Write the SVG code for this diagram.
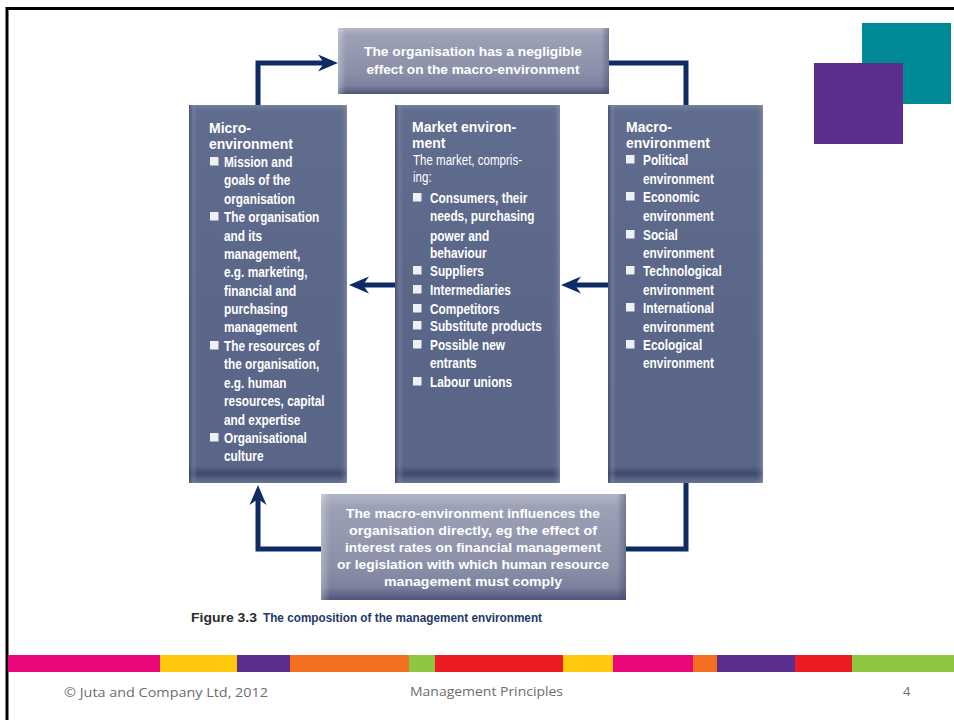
<svg xmlns="http://www.w3.org/2000/svg" width="954" height="720" viewBox="0 0 954 720">
  <style>
    .frame { fill: none; stroke: #000; stroke-width: 3; }
    .col { fill: url(#colV); }
    .colEdge { fill: url(#colH); }
    .note { fill: url(#noteV); }
    .noteEdge { fill: url(#noteH); }
    .head { font-family: "Liberation Sans", Arial, sans-serif; font-weight: bold; font-size: 14px; fill: #fff; }
    .item { font-family: "Liberation Sans", Arial, sans-serif; font-weight: bold; font-size: 15px; fill: #fff; }
    .plain { font-weight: normal; }
    .bul { fill: #eef0f4; }
    .ntext { font-family: "Liberation Sans", Arial, sans-serif; font-weight: bold; font-size: 13.5px; fill: #fff; text-anchor: middle; }
    .link { fill: none; stroke: #0f2b66; stroke-width: 5; }
    .cap1 { font-family: "Liberation Sans", Arial, sans-serif; font-weight: bold; font-size: 13px; fill: #2e2a26; }
    .cap2 { font-family: "Liberation Sans", Arial, sans-serif; font-weight: bold; font-size: 13px; fill: #24386a; }
    .foot { font-family: "Open Sans", "Liberation Sans", sans-serif; font-size: 13px; fill: #6d6d6d; }
  </style>
  <defs>
    <linearGradient id="colV" x1="0" y1="0" x2="0" y2="1">
      <stop offset="0" stop-color="#76819f"/>
      <stop offset="0.015" stop-color="#616d8e"/>
      <stop offset="0.5" stop-color="#5b6789"/>
      <stop offset="0.955" stop-color="#5a6688"/>
      <stop offset="0.975" stop-color="#3e4a6d"/>
      <stop offset="1" stop-color="#6a7495"/>
    </linearGradient>
    <linearGradient id="colH" x1="0" y1="0" x2="1" y2="0">
      <stop offset="0" stop-color="#2f3a5e" stop-opacity="0.55"/>
      <stop offset="0.03" stop-color="#8a93b0" stop-opacity="0.35"/>
      <stop offset="0.06" stop-color="#5b6789" stop-opacity="0"/>
      <stop offset="0.95" stop-color="#5b6789" stop-opacity="0"/>
      <stop offset="1" stop-color="#9aa2ba" stop-opacity="0.5"/>
    </linearGradient>
    <linearGradient id="noteV" x1="0" y1="0" x2="0" y2="1">
      <stop offset="0" stop-color="#b3b6c6"/>
      <stop offset="0.12" stop-color="#9da1b6"/>
      <stop offset="0.7" stop-color="#8a8fa8"/>
      <stop offset="0.88" stop-color="#7a809d"/>
      <stop offset="1" stop-color="#4d5477"/>
    </linearGradient>
    <linearGradient id="noteH" x1="0" y1="0" x2="1" y2="0">
      <stop offset="0" stop-color="#ffffff" stop-opacity="0.3"/>
      <stop offset="0.03" stop-color="#ffffff" stop-opacity="0"/>
      <stop offset="0.97" stop-color="#3a4268" stop-opacity="0"/>
      <stop offset="1" stop-color="#3a4268" stop-opacity="0.45"/>
    </linearGradient>
    <marker id="arr" markerUnits="userSpaceOnUse" markerWidth="24" markerHeight="20" viewBox="-21 -10 24 20" refX="-12" refY="0" orient="auto">
      <path d="M0,0 L-20,-8.5 L-14,0 L-20,8.5 Z" fill="#0f2b66"/>
    </marker>
  </defs>

  <!-- slide frame -->
  <path class="frame" d="M7,720 V8.5 H954"/>

  <!-- corner squares -->
  <g id="corner">
    <rect x="862" y="23" width="89" height="81" fill="#008a96"/>
    <rect x="814" y="63" width="89" height="81" fill="#5b2d8e"/>
  </g>

  <!-- connectors -->
  <g id="connectors">
    <path class="link" d="M258,105 V63 H326" marker-end="url(#arr)"/>
    <path class="link" d="M609,63 H686 V105"/>
    <path class="link" d="M686,482 V549 H626"/>
    <path class="link" d="M321,549 H258 V497" marker-end="url(#arr)"/>
    <path class="link" d="M395,285 H361" marker-end="url(#arr)"/>
    <path class="link" d="M608,285 H573" marker-end="url(#arr)"/>
  </g>

  <!-- top note -->
  <g id="note-top">
    <rect class="note" x="338" y="28" width="271" height="66"/>
    <rect class="noteEdge" x="338" y="28" width="271" height="66"/>
    <text class="ntext" x="473" y="56" textLength="218" lengthAdjust="spacingAndGlyphs">The organisation has a negligible</text>
    <text class="ntext" x="473" y="74" textLength="213" lengthAdjust="spacingAndGlyphs">effect on the macro-environment</text>
  </g>

  <!-- micro-environment -->
  <g id="micro">
    <rect class="col" x="189" y="105" width="158" height="378"/>
    <rect class="colEdge" x="189" y="105" width="158" height="378"/>
    <text class="head" x="209" y="133">Micro-</text>
    <text class="head" x="209" y="149">environment</text>
    <rect class="bul" x="210" y="157" width="8.5" height="8.5"/>
    <rect class="bul" x="210" y="212" width="8.5" height="8.5"/>
    <rect class="bul" x="210" y="341" width="8.5" height="8.5"/>
    <rect class="bul" x="210" y="433" width="8.5" height="8.5"/>
    <g transform="translate(224 0) scale(0.79 1)">
      <text class="item" x="0" y="167">Mission and</text>
      <text class="item" x="0" y="185">goals of the</text>
      <text class="item" x="0" y="204">organisation</text>
      <text class="item" x="0" y="222">The organisation</text>
      <text class="item" x="0" y="241">and its</text>
      <text class="item" x="0" y="259">management,</text>
      <text class="item" x="0" y="277">e.g. marketing,</text>
      <text class="item" x="0" y="296">financial and</text>
      <text class="item" x="0" y="314">purchasing</text>
      <text class="item" x="0" y="332">management</text>
      <text class="item" x="0" y="351">The resources of</text>
      <text class="item" x="0" y="369">the organisation,</text>
      <text class="item" x="0" y="388">e.g. human</text>
      <text class="item" x="0" y="406">resources, capital</text>
      <text class="item" x="0" y="425">and expertise</text>
      <text class="item" x="0" y="443">Organisational</text>
      <text class="item" x="0" y="461">culture</text>
    </g>
  </g>

  <!-- market environment -->
  <g id="market">
    <rect class="col" x="395" y="105" width="165" height="378"/>
    <rect class="colEdge" x="395" y="105" width="165" height="378"/>
    <text class="head" x="412" y="132">Market environ-</text>
    <text class="head" x="412" y="148">ment</text>
    <g transform="translate(413 0) scale(0.77 1)">
      <text class="item plain" x="0" y="165">The market, compris-</text>
      <text class="item plain" x="0" y="182">ing:</text>
    </g>
    <rect class="bul" x="413" y="193" width="8.5" height="8.5"/>
    <rect class="bul" x="413" y="266" width="8.5" height="8.5"/>
    <rect class="bul" x="413" y="285" width="8.5" height="8.5"/>
    <rect class="bul" x="413" y="304" width="8.5" height="8.5"/>
    <rect class="bul" x="413" y="321" width="8.5" height="8.5"/>
    <rect class="bul" x="413" y="340" width="8.5" height="8.5"/>
    <rect class="bul" x="413" y="377" width="8.5" height="8.5"/>
    <g transform="translate(430 0) scale(0.79 1)">
      <text class="item" x="0" y="203">Consumers, their</text>
      <text class="item" x="0" y="221">needs, purchasing</text>
      <text class="item" x="0" y="241">power and</text>
      <text class="item" x="0" y="258">behaviour</text>
      <text class="item" x="0" y="276">Suppliers</text>
      <text class="item" x="0" y="295">Intermediaries</text>
      <text class="item" x="0" y="314">Competitors</text>
      <text class="item" x="0" y="331">Substitute products</text>
      <text class="item" x="0" y="350">Possible new</text>
      <text class="item" x="0" y="368">entrants</text>
      <text class="item" x="0" y="387">Labour unions</text>
    </g>
  </g>

  <!-- macro-environment -->
  <g id="macro">
    <rect class="col" x="608" y="105" width="155" height="378"/>
    <rect class="colEdge" x="608" y="105" width="155" height="378"/>
    <text class="head" x="626" y="132">Macro-</text>
    <text class="head" x="626" y="148">environment</text>
    <rect class="bul" x="626" y="155" width="8.5" height="8.5"/>
    <rect class="bul" x="626" y="192" width="8.5" height="8.5"/>
    <rect class="bul" x="626" y="230" width="8.5" height="8.5"/>
    <rect class="bul" x="626" y="266" width="8.5" height="8.5"/>
    <rect class="bul" x="626" y="303" width="8.5" height="8.5"/>
    <rect class="bul" x="626" y="340" width="8.5" height="8.5"/>
    <g transform="translate(643 0) scale(0.79 1)">
      <text class="item" x="0" y="165">Political</text>
      <text class="item" x="0" y="184">environment</text>
      <text class="item" x="0" y="202">Economic</text>
      <text class="item" x="0" y="221">environment</text>
      <text class="item" x="0" y="240">Social</text>
      <text class="item" x="0" y="258">environment</text>
      <text class="item" x="0" y="276">Technological</text>
      <text class="item" x="0" y="295">environment</text>
      <text class="item" x="0" y="313">International</text>
      <text class="item" x="0" y="332">environment</text>
      <text class="item" x="0" y="350">Ecological</text>
      <text class="item" x="0" y="368">environment</text>
    </g>
  </g>

  <!-- bottom note -->
  <g id="note-bottom">
    <rect class="note" x="321" y="494" width="305" height="106"/>
    <rect class="noteEdge" x="321" y="494" width="305" height="106"/>
    <text class="ntext" x="473" y="518" textLength="254" lengthAdjust="spacingAndGlyphs">The macro-environment influences the</text>
    <text class="ntext" x="473" y="535" textLength="248" lengthAdjust="spacingAndGlyphs">organisation directly, eg the effect of</text>
    <text class="ntext" x="473" y="552" textLength="256" lengthAdjust="spacingAndGlyphs">interest rates on financial management</text>
    <text class="ntext" x="473" y="569" textLength="272" lengthAdjust="spacingAndGlyphs">or legislation with which human resource</text>
    <text class="ntext" x="473" y="586" textLength="178" lengthAdjust="spacingAndGlyphs">management must comply</text>
  </g>

  <!-- caption -->
  <g id="caption">
    <text class="cap1" x="191" y="622" textLength="66" lengthAdjust="spacingAndGlyphs">Figure 3.3</text>
    <text class="cap2" x="263" y="622" textLength="279" lengthAdjust="spacingAndGlyphs">The composition of the management environment</text>
  </g>

  <!-- colour strip -->
  <g id="strip">
    <rect x="8" y="655" width="152" height="17" fill="#ec067c"/>
    <rect x="160" y="655" width="77" height="17" fill="#ffc90d"/>
    <rect x="237" y="655" width="53" height="17" fill="#5b2d8e"/>
    <rect x="290" y="655" width="119" height="17" fill="#f37021"/>
    <rect x="409" y="655" width="26" height="17" fill="#8dc63f"/>
    <rect x="435" y="655" width="128" height="17" fill="#ed1c24"/>
    <rect x="563" y="655" width="50" height="17" fill="#ffc90d"/>
    <rect x="613" y="655" width="80" height="17" fill="#ec067c"/>
    <rect x="693" y="655" width="24" height="17" fill="#f37021"/>
    <rect x="717" y="655" width="78" height="17" fill="#5b2d8e"/>
    <rect x="795" y="655" width="57" height="17" fill="#ed1c24"/>
    <rect x="852" y="655" width="102" height="17" fill="#8dc63f"/>
  </g>

  <!-- footer -->
  <g id="footer">
    <text class="foot" x="64" y="697" textLength="204" lengthAdjust="spacingAndGlyphs">© Juta and Company Ltd, 2012</text>
    <text class="foot" x="410" y="696" textLength="153" lengthAdjust="spacingAndGlyphs">Management Principles</text>
    <text class="foot" x="903" y="696">4</text>
  </g>
</svg>
